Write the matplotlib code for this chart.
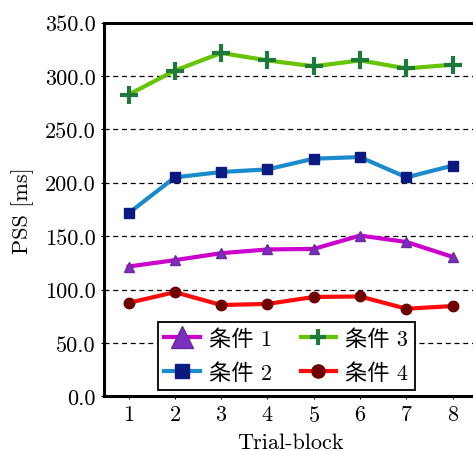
import matplotlib
matplotlib.use('Agg')
import matplotlib.pyplot as plt

blocks = [1, 2, 3, 4, 5, 6, 7, 8]
cond1 = [121.5, 127.5, 134.0, 137.5, 138.0, 150.5, 144.5, 130.5]
cond2 = [171.5, 205.0, 210.0, 212.5, 222.5, 224.0, 205.0, 216.0]
cond3 = [282.5, 305.0, 321.5, 314.5, 309.0, 314.5, 307.0, 310.5]
cond4 = [87.5, 97.5, 85.5, 86.5, 93.0, 93.5, 82.0, 84.5]
labels = ['条件 1', '条件 2', '条件 3', '条件 4']
yticks = [0, 50, 100, 150, 200, 250, 300, 350]

plt.rcParams['font.family'] = ['cmr10', 'Noto Sans CJK JP']
plt.rcParams['axes.formatter.use_mathtext'] = True

fig = plt.figure(figsize=(4.73, 4.52), dpi=100)
ax = fig.add_axes([0.220, 0.121, 0.786, 0.827])

lw = 3.0
ax.plot(blocks, cond1, color='#cc00cc', linewidth=lw, marker='^', markersize=7.5,
        markerfacecolor='#7b2fbe', markeredgecolor='#6a2a9a', label=labels[0], zorder=3)
ax.plot(blocks, cond2, color='#1a8ccc', linewidth=lw, marker='s', markersize=6.5,
        markerfacecolor='#0a1a80', markeredgecolor='#0a1a80', label=labels[1], zorder=3)
ax.plot(blocks, cond3, color='#66c400', linewidth=lw, marker='+', markersize=13,
        markeredgewidth=3, markeredgecolor='#1e7a3a', label=labels[2], zorder=3)
ax.plot(blocks, cond4, color='#ff0a0a', linewidth=lw, marker='o', markersize=7.5,
        markerfacecolor='#700000', markeredgecolor='#700000', label=labels[3], zorder=3)

ax.set_xlim(0.47, 8.5)
ax.set_ylim(0, 350)
ax.set_xticks(blocks)
ax.set_yticks(yticks)
ax.set_yticklabels(['%.1f' % v for v in yticks])
ax.tick_params(length=2, width=0.8, labelsize=16, pad=4)
ax.yaxis.grid(True, linestyle=(0, (4, 3)), color='black', linewidth=0.9)
for s in ax.spines.values():
    s.set_linewidth(2.2)

ax.set_xlabel('Trial-block', fontsize=16, labelpad=6)
ax.set_ylabel('PSS [ms]', fontsize=16, labelpad=8)

leg = ax.legend(loc='lower center', ncol=2, fontsize=16, fancybox=False,
                edgecolor='black', framealpha=1, borderaxespad=0.3,
                handlelength=1.6, handletextpad=0.4, columnspacing=1.3,
                borderpad=0.3, labelspacing=0.6, bbox_to_anchor=(0.49, 0))
leg.get_frame().set_linewidth(1.3)
for h, ms in zip(leg.legend_handles, [16, 10, 11, 9.5]):
    h.set_markersize(ms)

fig.savefig('out.png', dpi=100)
